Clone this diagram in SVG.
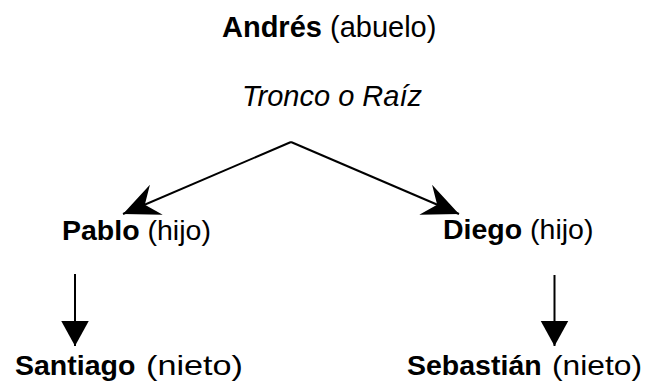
<svg xmlns="http://www.w3.org/2000/svg" width="647" height="381" viewBox="0 0 647 381">
<style>
  .t { font-family: "Liberation Sans", Arial, sans-serif; font-size: 28.5px; fill: #000; }
  .top { font-size: 29px; }
  .b { font-weight: bold; }
  .i { font-style: italic; }
  .c { stroke: #000; stroke-width: 2; fill: none; }
</style>
<defs>
  <marker id="stealth" markerUnits="userSpaceOnUse" markerWidth="40" markerHeight="40" viewBox="-30 -15 32 30" refX="0" refY="0" orient="auto">
    <path d="M0,0 L-29,-13 L-19,0 L-29,13 Z" fill="#000"/>
  </marker>
  <marker id="tri" markerUnits="userSpaceOnUse" markerWidth="30" markerHeight="30" viewBox="-22 -12 24 24" refX="0" refY="0" orient="auto">
    <path d="M0,0 L-20,-11 L-20,11 Z" fill="#000"/>
  </marker>
</defs>
<rect width="647" height="381" fill="#fff"/>
<g id="connectors">
  <line class="c" x1="291" y1="142" x2="123" y2="214" marker-end="url(#stealth)"/>
  <line class="c" x1="291" y1="142" x2="459" y2="214" marker-end="url(#stealth)"/>
  <line class="c" x1="75" y1="274" x2="75" y2="346" marker-end="url(#tri)"/>
  <line class="c" x1="554.5" y1="275" x2="554.5" y2="346" marker-end="url(#tri)"/>
</g>
<g id="andres">
  <text class="t top" x="222" y="37"><tspan class="b">Andrés</tspan> (abuelo)</text>
</g>
<g id="tronco">
  <text class="t top i" x="242" y="106">Tronco o Raíz</text>
</g>
<g id="pablo">
  <text class="t" x="62" y="240"><tspan class="b">Pablo</tspan> (hijo)</text>
</g>
<g id="diego">
  <text class="t" x="443" y="239"><tspan class="b">Diego</tspan> (hijo)</text>
</g>
<g id="santiago">
  <text class="t b" x="15" y="375">Santiago</text>
  <text class="t" x="146" y="375" textLength="97" lengthAdjust="spacingAndGlyphs">(nieto)</text>
</g>
<g id="sebastian">
  <text class="t b" x="407" y="375">Sebastián</text>
  <text class="t" x="552" y="375" textLength="90" lengthAdjust="spacingAndGlyphs">(nieto)</text>
</g>
</svg>
